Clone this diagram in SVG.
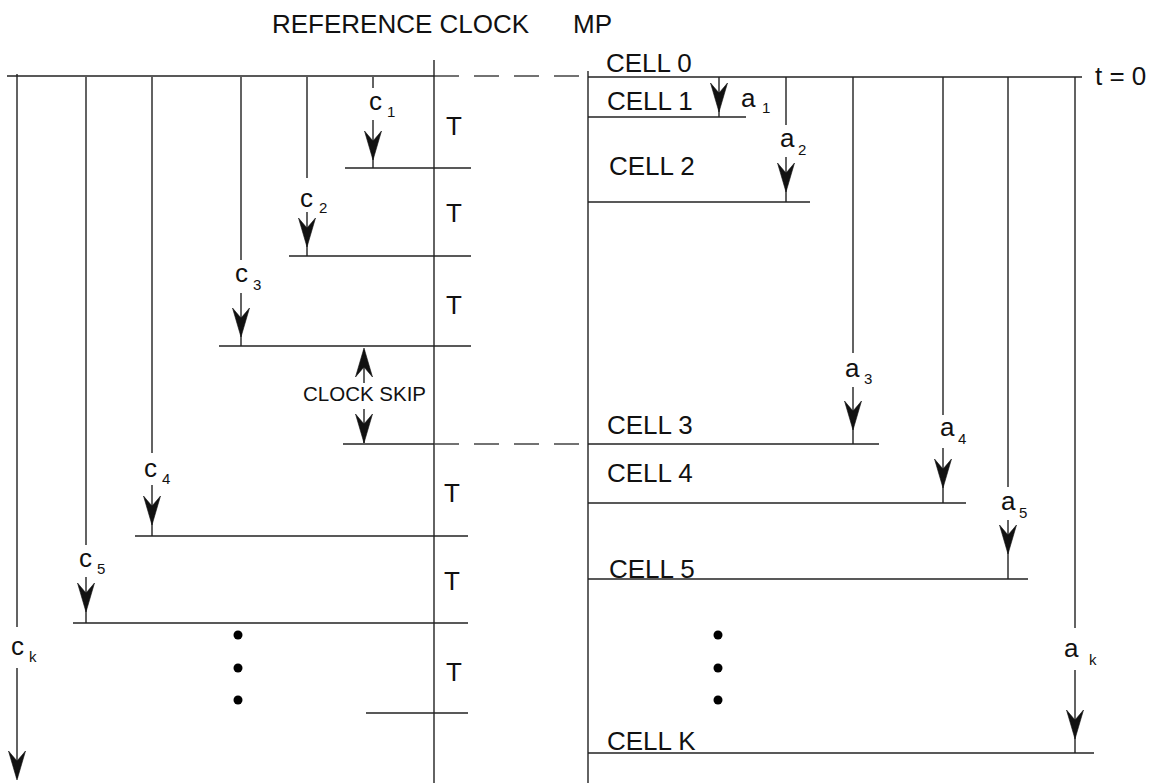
<svg xmlns="http://www.w3.org/2000/svg" xmlns:xlink="http://www.w3.org/1999/xlink" width="1150" height="783" viewBox="0 0 1150 783">
<style>
.ln{stroke:#222;stroke-width:1.4;fill:none}
.ds{stroke:#444;stroke-width:1.4;fill:none;stroke-dasharray:25 15}
.t{font-family:"Liberation Sans",Arial,sans-serif;font-size:26px;fill:#111}
.s{font-size:15px}
.sk{font-family:"Liberation Sans",Arial,sans-serif;font-size:20.5px;fill:#111}
.dot{fill:#000}
</style>
<defs>
<path id="ah" d="M0,0 L-8.5,-29 L0,-19 L8.5,-29 Z" fill="#111" stroke="#111" stroke-width="0.6" stroke-linejoin="miter"/>
</defs>
<rect width="1150" height="783" fill="#fff"/>

<g id="headers">
<text class="t" x="272" y="33">REFERENCE CLOCK</text>
<text class="t" x="573" y="33">MP</text>
<text class="t" x="1095" y="85">t = 0</text>
</g>

<g id="axes">
<line class="ln" x1="7" y1="76" x2="434" y2="76"/>
<path class="ds" d="M434,76 H582"/>
<line class="ln" x1="588" y1="77" x2="1082" y2="77"/>
<line class="ln" x1="434" y1="60" x2="434" y2="783"/>
<line class="ln" x1="588" y1="71" x2="588" y2="783"/>
</g>

<g id="clock-ticks">
<line class="ln" x1="345" y1="168" x2="471" y2="168"/>
<line class="ln" x1="289" y1="256" x2="471" y2="256"/>
<line class="ln" x1="219" y1="346" x2="471" y2="346"/>
<line class="ln" x1="343" y1="444" x2="434" y2="444"/>
<path class="ds" d="M434,444 H580"/>
<line class="ln" x1="135" y1="536" x2="468" y2="536"/>
<line class="ln" x1="73" y1="623" x2="468" y2="623"/>
<line class="ln" x1="366" y1="713" x2="468" y2="713"/>
</g>

<g id="period-labels">
<text class="t" x="446" y="135">T</text>
<text class="t" x="446" y="222">T</text>
<text class="t" x="446" y="314">T</text>
<text class="t" x="444" y="502">T</text>
<text class="t" x="444" y="590">T</text>
<text class="t" x="446" y="681">T</text>
</g>

<g id="clock-skip">
<line class="ln" x1="364" y1="350" x2="364" y2="383"/>
<use xlink:href="#ah" transform="translate(364,348) rotate(180)"/>
<text class="sk" x="303" y="401">CLOCK SKIP</text>
<line class="ln" x1="364" y1="409" x2="364" y2="443"/>
<use xlink:href="#ah" x="364" y="443"/>
</g>

<g id="cells">
<text class="t" x="606" y="72">CELL 0</text>
<text class="t" x="607" y="110">CELL 1</text>
<line class="ln" x1="588" y1="117" x2="746" y2="117"/>
<text class="t" x="609" y="175">CELL 2</text>
<line class="ln" x1="588" y1="202" x2="810" y2="202"/>
<text class="t" x="607" y="434">CELL 3</text>
<line class="ln" x1="588" y1="444" x2="879" y2="444"/>
<text class="t" x="607" y="482">CELL 4</text>
<line class="ln" x1="588" y1="503" x2="966" y2="503"/>
<text class="t" x="609" y="578">CELL 5</text>
<line class="ln" x1="588" y1="579" x2="1028" y2="579"/>
<text class="t" x="607" y="750">CELL K</text>
<line class="ln" x1="588" y1="753" x2="1094" y2="753"/>
</g>

<g id="connectors">
<path class="ln" d="M373,77 V88 M373,120 V168"/>
<use xlink:href="#ah" x="373" y="160"/>
<path class="ln" d="M307,77 V178 M307,212 V256"/>
<use xlink:href="#ah" x="307" y="247"/>
<path class="ln" d="M241,77 V260 M241,293 V346"/>
<use xlink:href="#ah" x="241" y="337"/>
<path class="ln" d="M152,77 V453 M152,485 V536"/>
<use xlink:href="#ah" x="152" y="525"/>
<path class="ln" d="M86,77 V545 M86,577 V623"/>
<use xlink:href="#ah" x="86" y="612"/>
<path class="ln" d="M17,74 V627 M17,668 V778"/>
<use xlink:href="#ah" x="17" y="780"/>
<path class="ln" d="M719,77 V117"/>
<use xlink:href="#ah" x="719" y="112"/>
<path class="ln" d="M786,77 V125 M786,157 V202"/>
<use xlink:href="#ah" x="786" y="192"/>
<path class="ln" d="M853,77 V353 M853,387 V444"/>
<use xlink:href="#ah" x="853" y="430"/>
<path class="ln" d="M943,77 V415 M943,448 V503"/>
<use xlink:href="#ah" x="943" y="488"/>
<path class="ln" d="M1008,77 V487 M1008,520 V579"/>
<use xlink:href="#ah" x="1008" y="554"/>
<path class="ln" d="M1075,77 V628 M1075,670 V753"/>
<use xlink:href="#ah" x="1075" y="739"/>
</g>

<g id="c-labels">
<text class="t" x="369" y="110">c<tspan class="s" x="387" dy="7">1</tspan></text>
<text class="t" x="300" y="207">c<tspan class="s" x="319" dy="6">2</tspan></text>
<text class="t" x="235" y="282">c<tspan class="s" x="253" dy="8">3</tspan></text>
<text class="t" x="144" y="477">c<tspan class="s" x="162" dy="7">4</tspan></text>
<text class="t" x="79" y="567">c<tspan class="s" x="97" dy="7">5</tspan></text>
<text class="t" x="11" y="655">c<tspan class="s" x="29" dy="7">k</tspan></text>
</g>

<g id="a-labels">
<text class="t" x="741" y="107">a<tspan class="s" x="762" dy="6">1</tspan></text>
<text class="t" x="780" y="147">a<tspan class="s" x="798" dy="8">2</tspan></text>
<text class="t" x="845" y="377">a<tspan class="s" x="864" dy="7">3</tspan></text>
<text class="t" x="940" y="436">a<tspan class="s" x="958" dy="8">4</tspan></text>
<text class="t" x="1001" y="510">a<tspan class="s" x="1019" dy="8">5</tspan></text>
<text class="t" x="1064" y="657">a<tspan class="s" x="1089" dy="8">k</tspan></text>
</g>

<g id="ellipsis">
<circle class="dot" cx="238" cy="635" r="4.5"/>
<circle class="dot" cx="238" cy="668" r="4.5"/>
<circle class="dot" cx="238" cy="700" r="4.5"/>
<circle class="dot" cx="718" cy="635" r="4.5"/>
<circle class="dot" cx="718" cy="668" r="4.5"/>
<circle class="dot" cx="718" cy="700" r="4.5"/>
</g>
</svg>
